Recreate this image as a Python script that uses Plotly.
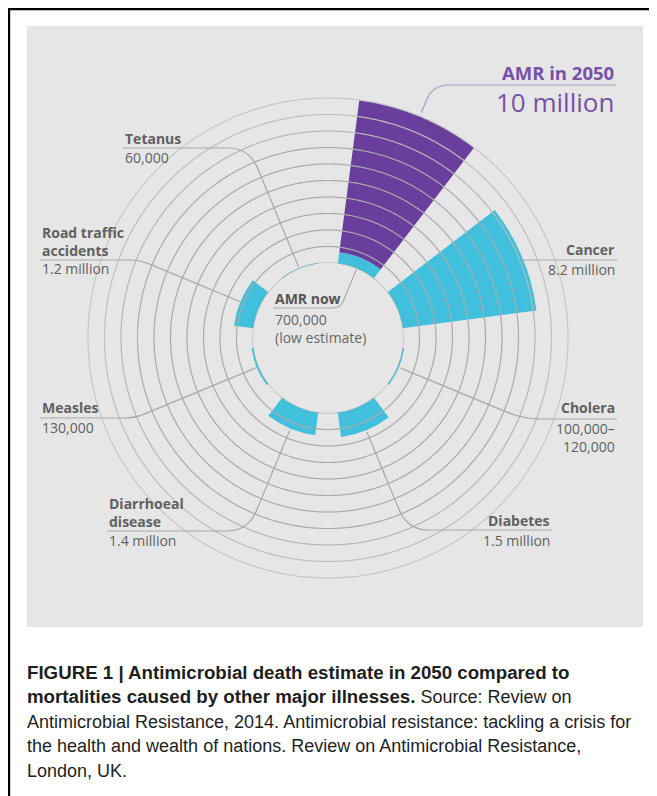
import math
import numpy as np
import plotly.graph_objects as go

# ---------------- data ----------------
categories = ["AMR now", "Cancer", "Cholera", "Diabetes",
              "Diarrhoeal disease", "Measles", "Road traffic accidents", "Tetanus"]
deaths_millions = [0.7, 8.2, 0.11, 1.5, 1.4, 0.13, 1.2, 0.06]
amr_2050_millions = 10.0
name_labels = ["AMR now", "Cancer", "Cholera", "Diabetes",
               ["Diarrhoeal", "disease"], "Measles", ["Road traffic", "accidents"], "Tetanus"]
value_labels = [["700,000", "(low estimate)"], "8.2 million", ["100,000–", "120,000"],
                "1.5 million", "1.4 million", "130,000", "1.2 million", "60,000"]
ring_values = list(range(0, 11))

# ---------------- geometry / style ----------------
W, H = 657, 796
OFF = 8.0                      # page body margin of the html page
CX, CY = 328.0, 338.0          # centre of the polar chart (page pixels)
HOLE_PX = 75.0
UNIT_PX = 16.5                 # pixels per million
R_MAX = 10.5
R_PX = HOLE_PX + R_MAX * UNIT_PX

SECTOR = 360 / len(categories)
thetas = [SECTOR / 2 + SECTOR * i for i in range(len(categories))]

CYAN = "#40c0dc"
PURPLE = "#6a3e9c"
PANEL = "#e6e6e6"
TXT = "#606060"
LEAD = "#a8a8a8"
FONT = "Open Sans"


def px(x):
    return (x - OFF) / W


def py(y):
    return 1 - (y - OFF) / H


def P(x, y):
    return f"{px(x):.5f},{py(y):.5f}"


fig = go.Figure()

# rings under bars (outer rings fade out)
ring_cols = ["#b2b2b2"] * 8 + ["#c2c2c2", "#cdcdcd", "#d8d8d8"]
circle_t = np.linspace(0, 360, 721)
for v, c in zip(ring_values, ring_cols):
    fig.add_trace(go.Scatterpolar(r=[v] * len(circle_t), theta=circle_t, mode="lines",
                                  line=dict(color=c, width=1.1), hoverinfo="skip",
                                  showlegend=False))

# bars
fig.add_trace(go.Barpolar(r=deaths_millions, theta=thetas, width=[30] * len(thetas),
                          marker=dict(color=CYAN, line=dict(width=0)),
                          showlegend=False, name="deaths"))
fig.add_trace(go.Barpolar(r=[amr_2050_millions - deaths_millions[0]], theta=[thetas[0]],
                          base=[deaths_millions[0]], width=[30],
                          marker=dict(color=PURPLE, line=dict(width=0)),
                          showlegend=False, name="AMR 2050"))

# rings over bars (subtle)
for v in ring_values[1:11]:
    fig.add_trace(go.Scatterpolar(r=[v] * len(circle_t), theta=circle_t, mode="lines",
                                  line=dict(color="rgba(150,150,150,0.28)", width=1.1),
                                  hoverinfo="skip", showlegend=False))

dom_x = [px(CX - R_PX), px(CX + R_PX)]
dom_y = [py(CY + R_PX), py(CY - R_PX)]

shapes = []
# frame and panel
shapes.append(dict(type="rect", xref="paper", yref="paper", x0=px(8.7), x1=px(720),
                   y0=py(900), y1=py(8.7), line=dict(color="black", width=3),
                   fillcolor="rgba(0,0,0,0)", layer="below"))
shapes.append(dict(type="rect", xref="paper", yref="paper", x0=px(27), x1=px(643),
                   y0=py(627), y1=py(26), line=dict(width=0), fillcolor=PANEL,
                   layer="below"))


def pt(theta, r):
    t = math.radians(theta)
    return CX + r * math.sin(t), CY - r * math.cos(t)


def leader(theta, r_start, Y, x_end, d, color=LEAD):
    t = math.radians(theta)
    r_c = (CY - Y) / math.cos(t)
    sgn = 1 if r_c > r_start else -1
    x0, y0 = pt(theta, r_start)
    x1, y1 = pt(theta, r_c - sgn * d)
    xc, yc = pt(theta, r_c)
    sx = 1 if x_end > xc else -1
    path = f"M{P(x0, y0)} L{P(x1, y1)} Q{P(xc, yc)} {P(xc + sx * d, Y)} L{P(x_end, Y)}"
    shapes.append(dict(type="path", xref="paper", yref="paper", path=path,
                       line=dict(color=color, width=1.2), layer="above"))


def bar_end(i):
    return HOLE_PX + deaths_millions[i] * UNIT_PX


# leaders
leader(thetas[0], HOLE_PX - 1, 308, 273, 8)                       # AMR now
leader(thetas[0], HOLE_PX + amr_2050_millions * UNIT_PX + 4, 85, 616, 16, "#a999cc")
shapes.append(dict(type="line", xref="paper", yref="paper", x0=px(522), x1=px(617),
                   y0=py(260), y1=py(260), line=dict(color=LEAD, width=1.2)))  # Cancer
leader(thetas[2], bar_end(2) + 2, 419, 617, 18)                  # Cholera
leader(thetas[3], bar_end(3) + 2, 530, 552, 22)                  # Diabetes
leader(thetas[4], bar_end(4) + 2, 531, 107, 22)                  # Diarrhoeal
leader(thetas[5], bar_end(5) + 1, 418, 40, 10)                   # Measles
leader(thetas[6], bar_end(6) - 2, 260, 40, 10)                   # Road traffic
leader(thetas[7], bar_end(7) + 1, 148, 123, 22)                  # Tetanus

annotations = []


def text(x, y, s, anchor, size=14, bold=False, color=TXT, family=FONT):
    if isinstance(s, list):
        s = "<br>".join(f"<b>{p}</b>" if bold else p for p in s)
    elif bold:
        s = f"<b>{s}</b>"
    annotations.append(dict(x=px(x), y=py(y), xref="paper", yref="paper",
                            text=s, showarrow=False,
                            xanchor=anchor, yanchor="middle", align=anchor,
                            font=dict(family=family, size=size, color=color)))


# labels
text(616, 72, "AMR in 2050", "right", size=18.5, bold=True, color="#7651a8")
text(616, 102, f"{amr_2050_millions:.0f} million", "right", size=26, color="#7651a8")

text(273, 298, name_labels[0], "left", bold=True, color="#555555")
text(273, 328, value_labels[0], "left", color="#666666")

text(617, 250, name_labels[1], "right", bold=True)
text(617, 270, value_labels[1], "right")

text(617, 408, name_labels[2], "right", bold=True)
text(617, 437.5, value_labels[2], "right")

text(552, 520, name_labels[3], "right", bold=True)
text(552, 540, value_labels[3], "right")

text(107, 512, name_labels[4], "left", bold=True)
text(107, 540, value_labels[4], "left")

text(40, 408, name_labels[5], "left", bold=True)
text(40, 428, value_labels[5], "left")

text(40, 241.5, name_labels[6], "left", bold=True)
text(40, 269, value_labels[6], "left")

text(123, 138, name_labels[7], "left", bold=True)
text(123, 157, value_labels[7], "left")

# caption
B = '<span style="font-size:18.7px"><b>{}</b></span>'
caption = [
    B.format("FIGURE 1 | Antimicrobial death estimate in 2050 compared to"),
    B.format("mortalities caused by other major illnesses.") + " Source: Review on",
    "Antimicrobial Resistance, 2014. Antimicrobial resistance: tackling a crisis for",
    "the health and wealth of nations. Review on Antimicrobial Resistance,",
    "London, UK.",
]
for k, line in enumerate(caption):
    text(25, 672 + 24.75 * k, line, "left", size=18, color="#1e1e1e",
         family="Liberation Sans")

fig.update_layout(
    width=W, height=H,
    margin=dict(l=0, r=0, t=0, b=0),
    paper_bgcolor="white",
    plot_bgcolor="rgba(0,0,0,0)",
    showlegend=False,
    polar=dict(
        domain=dict(x=dom_x, y=dom_y),
        hole=HOLE_PX / R_PX,
        bgcolor="rgba(0,0,0,0)",
        radialaxis=dict(range=[0, R_MAX], showgrid=False, showline=False,
                        showticklabels=False, ticks=""),
        angularaxis=dict(rotation=90, direction="clockwise", showgrid=False,
                         showline=False, showticklabels=False, ticks=""),
    ),
    shapes=shapes,
    annotations=annotations,
)

fig.write_html("out.html")
